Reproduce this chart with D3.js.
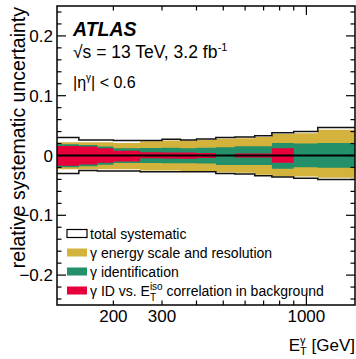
<!DOCTYPE html>
<html>
<head>
<meta charset="utf-8">
<script src="https://cdn.jsdelivr.net/npm/d3@7"></script>
<style>
  body { margin: 0; background: #fff; }
  svg { display: block; font-family: "Liberation Sans", Arial, Helvetica, sans-serif; }
  text { white-space: pre; }
</style>
</head>
<body>
<svg id="chart" width="356" height="359"></svg>
<script>
// bin edges in photon ET [GeV]
const edges = [125, 150, 175, 200, 250, 300, 350, 400, 470, 550, 650, 750, 900, 1100, 1500];

// relative uncertainties per bin (up / down magnitudes)
const totalUp    = [0.030, 0.026, 0.026, 0.025, 0.025, 0.027, 0.026, 0.0275, 0.030, 0.031, 0.033, 0.038, 0.040, 0.047];
const totalDown  = [0.030, 0.025, 0.026, 0.026, 0.027, 0.027, 0.027, 0.027, 0.030, 0.031, 0.034, 0.036, 0.038, 0.040];
const energyUp   = [0.022, 0.022, 0.022, 0.021, 0.024, 0.025, 0.025, 0.026, 0.028, 0.029, 0.031, 0.036, 0.037, 0.043];
const energyDown = [0.023, 0.023, 0.023, 0.023, 0.025, 0.025, 0.026, 0.026, 0.028, 0.029, 0.032, 0.035, 0.035, 0.037];
const idUp       = [0.019, 0.0175, 0.015, 0.012, 0.0125, 0.013, 0.012, 0.013, 0.014, 0.0155, 0.0155, 0.021, 0.020, 0.021];
const idDown     = [0.0195, 0.018, 0.0155, 0.0125, 0.0125, 0.013, 0.013, 0.0135, 0.016, 0.016, 0.016, 0.022, 0.0195, 0.0205];
const corrUp     = [0.016, 0.015, 0.012, 0.008, 0.0055, 0.005, 0.005, 0.004, 0.001, 0.0035, 0.0035, 0.012, 0, 0];
const corrDown   = [0.017, 0.015, 0.012, 0.010, 0.0045, 0.005, 0.0055, 0.004, 0.001, 0.0035, 0.0035, 0.012, 0, 0];

const yMajor = [-0.2, -0.1, 0, 0.1, 0.2];
const yLabels = ['\u22120.2', '\u22120.1', '0', '0.1', '0.2'];
const xTicks = [200, 300, 400, 500, 600, 700, 800, 900, 1000];
const xLabels = ['200', '300', '1000'];

const COLORS = { energy: '#d3b33c', id: '#23906a', corr: '#e8003b' };
const FONT = '"Liberation Sans", Arial, Helvetica, sans-serif';

const M = { left: 57, right: 355, top: 6, bottom: 305 };
const x = d3.scaleLog().domain([125, 1500]).range([M.left, M.right]);
const y = d3.scaleLinear().domain([-0.25, 0.25]).range([M.bottom, M.top]);

const svg = d3.select('#chart');

const ctx = document.createElement('canvas').getContext('2d');
function textWidth(str, size, weight = 'normal', style = 'normal') {
  ctx.font = `${style} ${weight} ${size}px ${FONT}`;
  return ctx.measureText(str).width;
}

// draws a run of text pieces; a piece with `stack` puts sup/sub on the same x
function richText(g, x0, yb, parts, anchor) {
  const widths = parts.map(p => p.stack
    ? d3.max(p.stack, s => textWidth(s.t, s.size))
    : textWidth(p.t, p.size, p.weight, p.style));
  let cx = anchor === 'end' ? x0 - d3.sum(widths) : x0;
  const txt = g.append('text').attr('y', yb).attr('fill', '#000');
  parts.forEach((p, i) => {
    (p.stack || [p]).forEach(s => {
      txt.append('tspan')
        .attr('x', cx).attr('y', yb + (s.dy || 0))
        .attr('font-size', s.size)
        .attr('font-weight', s.weight || 'normal')
        .attr('font-style', s.style || 'normal')
        .text(s.t);
    });
    cx += widths[i];
  });
  return txt;
}

function points(up, down) {
  return edges.map((e, i) => {
    const k = Math.min(i, up.length - 1);
    return { e, up: up[k], down: down[k] };
  });
}

svg.append('defs').append('clipPath').attr('id', 'plot')
  .append('rect').attr('x', M.left).attr('y', M.top)
  .attr('width', M.right - M.left).attr('height', M.bottom - M.top);

const area = d3.area().curve(d3.curveStepAfter)
  .x(d => x(d.e)).y0(d => y(-d.down)).y1(d => y(d.up));

const plot = svg.append('g').attr('clip-path', 'url(#plot)');

[[energyUp, energyDown, COLORS.energy], [idUp, idDown, COLORS.id], [corrUp, corrDown, COLORS.corr]]
  .forEach(([u, d, c]) => {
    plot.append('path').datum(points(u, d)).attr('d', area).attr('fill', c);
  });

const tot = points(totalUp, totalDown);
const lineUp = d3.line().curve(d3.curveStepAfter).x(d => x(d.e)).y(d => y(d.up));
const lineDown = d3.line().curve(d3.curveStepAfter).x(d => x(d.e)).y(d => y(-d.down));
plot.append('path').datum(tot).attr('d', lineUp).attr('fill', 'none').attr('stroke', '#111').attr('stroke-width', 1.5);
plot.append('path').datum(tot).attr('d', lineDown).attr('fill', 'none').attr('stroke', '#111').attr('stroke-width', 1.5);

plot.append('line').attr('x1', M.left).attr('x2', M.right)
  .attr('y1', y(0)).attr('y2', y(0)).attr('stroke', '#000').attr('stroke-width', 2);

// frame and ticks on all four sides
const axes = svg.append('g').attr('stroke', '#000');
const yMinor = d3.range(-24, 25, 2).map(v => v / 100).filter(v => !yMajor.some(m => Math.abs(m - v) < 1e-9));
yMajor.forEach(v => {
  axes.append('line').attr('x1', M.left).attr('x2', M.left + 9).attr('y1', y(v)).attr('y2', y(v)).attr('stroke-width', 1.2);
  axes.append('line').attr('x1', M.right).attr('x2', M.right - 9).attr('y1', y(v)).attr('y2', y(v)).attr('stroke-width', 1.2);
});
yMinor.forEach(v => {
  axes.append('line').attr('x1', M.left).attr('x2', M.left + 4.5).attr('y1', y(v)).attr('y2', y(v)).attr('stroke-width', 1.2);
  axes.append('line').attr('x1', M.right).attr('x2', M.right - 4.5).attr('y1', y(v)).attr('y2', y(v)).attr('stroke-width', 1.2);
});
xTicks.forEach(v => {
  const len = v === 1000 ? 9 : 4.5;
  axes.append('line').attr('x1', x(v)).attr('x2', x(v)).attr('y1', M.bottom).attr('y2', M.bottom - len).attr('stroke-width', 1.2);
  axes.append('line').attr('x1', x(v)).attr('x2', x(v)).attr('y1', M.top).attr('y2', M.top + len).attr('stroke-width', 1.2);
});
svg.append('rect').attr('x', M.left).attr('y', M.top)
  .attr('width', M.right - M.left).attr('height', M.bottom - M.top)
  .attr('fill', 'none').attr('stroke', '#000').attr('stroke-width', 1.5);

// tick labels
svg.append('g').selectAll('text').data(yMajor).join('text')
  .attr('x', M.left - 4).attr('y', d => y(d)).attr('dy', '0.36em')
  .attr('text-anchor', 'end').attr('font-size', 17)
  .text((d, i) => yLabels[i]);

svg.append('g').selectAll('text').data(xLabels).join('text')
  .attr('x', d => x(+d)).attr('y', 322)
  .attr('text-anchor', 'middle').attr('font-size', 17)
  .text(d => d);

// axis titles
svg.append('text')
  .attr('transform', `translate(25,${M.top + 1}) rotate(-90)`)
  .attr('text-anchor', 'end').attr('font-size', 19.5)
  .text('relative systematic uncertainty');

richText(svg, 355, 351, [
  { t: 'E', size: 17 },
  { stack: [{ t: '\u03b3', size: 11, dy: -7 }, { t: 'T', size: 11, dy: 4 }] },
  { t: ' [GeV]', size: 17 }
], 'end');

// labels in the plot
richText(svg, 73, 36, [{ t: 'ATLAS', size: 19.5, weight: 'bold', style: 'italic' }]);
richText(svg, 73, 58, [
  { t: '\u221as = 13 TeV, 3.2 fb', size: 17.5 },
  { t: '-1', size: 11, dy: -7 }
]);
richText(svg, 73, 88, [
  { t: '|\u03b7', size: 16 },
  { t: '\u03b3', size: 10, dy: -7 },
  { t: '| < 0.6', size: 16 }
]);

// legend
const legendRows = [
  { fill: '#fff', stroke: '#000', parts: [{ t: 'total systematic', size: 14 }] },
  { fill: COLORS.energy, parts: [{ t: '\u03b3 energy scale and resolution', size: 14 }] },
  { fill: COLORS.id, parts: [{ t: '\u03b3 identification', size: 14 }] },
  { fill: COLORS.corr, parts: [
    { t: '\u03b3 ID vs. E', size: 14 },
    { stack: [{ t: 'iso', size: 10, dy: -6 }, { t: 'T', size: 10, dy: 5 }] },
    { t: ' correlation in background', size: 14 }
  ] }
];
const legend = svg.append('g');
legendRows.forEach((r, i) => {
  const cy = 233.5 + i * 19;
  legend.append('rect').attr('x', 67).attr('y', cy - 4).attr('width', 20).attr('height', 8)
    .attr('fill', r.fill).attr('stroke', r.stroke || 'none').attr('stroke-width', 1.2);
  richText(legend, 90, cy + 5, r.parts);
});
</script>
</body>
</html>
